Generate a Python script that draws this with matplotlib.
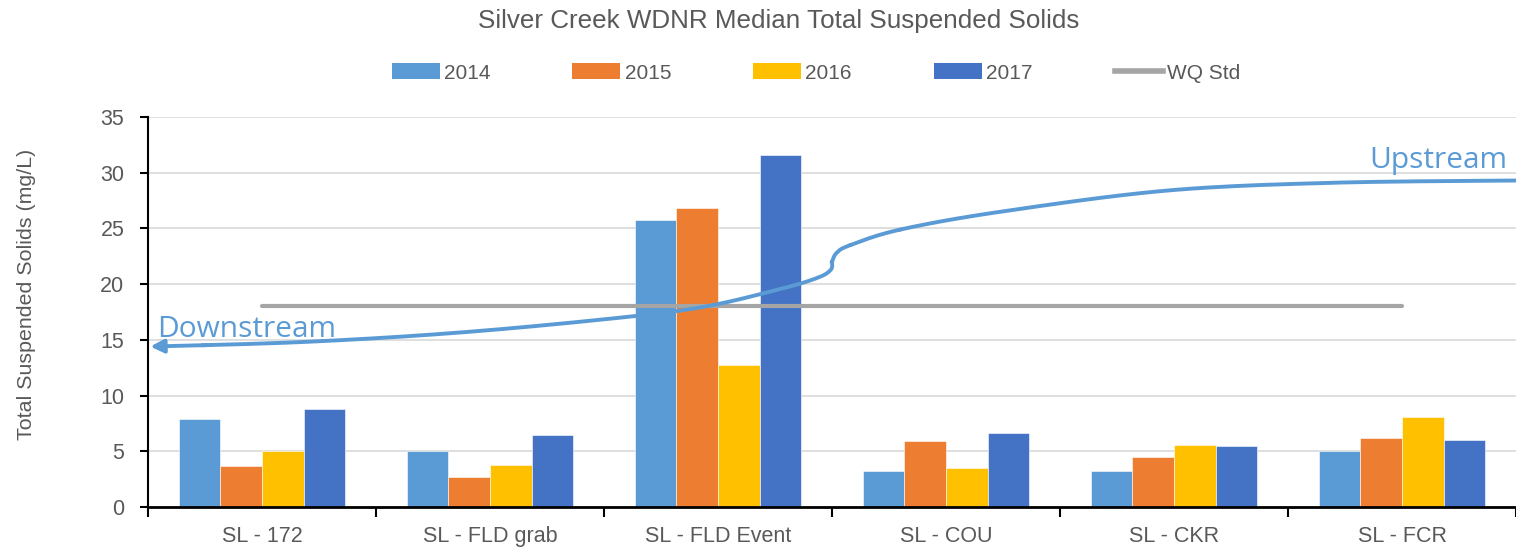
import numpy as np
import matplotlib
matplotlib.use("Agg")
import matplotlib.pyplot as plt
from matplotlib.lines import Line2D
from matplotlib.patches import Patch

plt.rcParams['font.family'] = ['Liberation Sans', 'DejaVu Sans']

# data
sites = ["SL - 172", "SL - FLD grab", "SL - FLD Event", "SL - COU", "SL - CKR", "SL - FCR"]
years = ["2014", "2015", "2016", "2017"]
tss_2014 = [7.9, 5.0, 25.8, 3.2, 3.2, 5.0]
tss_2015 = [3.7, 2.7, 26.8, 5.9, 4.5, 6.2]
tss_2016 = [5.0, 3.8, 12.7, 3.5, 5.6, 8.1]
tss_2017 = [8.8, 6.5, 31.6, 6.6, 5.5, 6.0]
wq_std = [18, 18, 18, 18, 18, 18]

colors = ["#5B9BD5", "#ED7D31", "#FFC000", "#4472C4"]
txt = "#595959"
arrow_col = "#5B9BD5"

# annotation curve (category x units, mg/L y units)
down_x = [-0.49, 0.17, 0.83, 1.48, 1.92, 2.28, 2.44, 2.495, 2.50]
down_y = [14.4, 14.8, 15.6, 16.8, 17.9, 19.6, 20.6, 21.3, 22.0]
up_x = [2.50, 2.52, 2.58, 2.80, 3.24, 3.97, 4.70, 5.50]
up_y = [22.0, 22.8, 23.5, 24.9, 26.5, 28.4, 29.1, 29.3]


def smooth(xs, ys, n=20):
    # catmull-rom through points
    p = np.column_stack([xs, ys])
    p = np.vstack([p[0], p, p[-1]])
    out = []
    for i in range(1, len(p) - 2):
        p0, p1, p2, p3 = p[i - 1], p[i], p[i + 1], p[i + 2]
        t = np.linspace(0, 1, n)[:, None]
        seg = 0.5 * ((2 * p1) + (-p0 + p2) * t + (2 * p0 - 5 * p1 + 4 * p2 - p3) * t ** 2
                     + (-p0 + 3 * p1 - 3 * p2 + p3) * t ** 3)
        out.append(seg)
    out = np.vstack(out)
    return out[:, 0], out[:, 1]


fig = plt.figure(figsize=(15.16, 5.53), dpi=100)
ax = fig.add_axes([148 / 1516, 1 - 507 / 553, 1 - 148 / 1516, 390 / 553])

x = np.arange(len(sites))
w = 0.183
series = [tss_2014, tss_2015, tss_2016, tss_2017]
for i, vals in enumerate(series):
    ax.bar(x + (i - 1.5) * w, vals, w, color=colors[i], edgecolor="white",
           linewidth=0.4, zorder=2)

ax.plot(x, wq_std, color="#A5A5A5", lw=3, solid_capstyle="round", zorder=3)

ax.set_xlim(-0.5, 5.5)
ax.set_ylim(0, 35)
ax.set_yticks(np.arange(0, 36, 5))
ax.yaxis.grid(True, color="#D9D9D9", lw=1.2, zorder=0)
ax.set_axisbelow(True)
ax.set_xticks(x)
ax.set_xticklabels(sites)
ax.set_xticks(np.arange(-0.5, 5.6, 1), minor=True)
ax.tick_params(axis="x", which="major", length=0, pad=14, labelsize=15.5, labelcolor=txt)
ax.tick_params(axis="x", which="minor", length=7, width=1.5, direction="out")
ax.tick_params(axis="y", length=6, width=1.5, pad=11, labelsize=15.5, labelcolor=txt)
for s in ["top", "right"]:
    ax.spines[s].set_visible(False)
ax.spines["left"].set_linewidth(1.5)
ax.spines["bottom"].set_linewidth(2)
ax.set_ylabel("Total Suspended Solids (mg/L)", fontsize=15.4, color=txt)
ax.yaxis.set_label_coords(-0.082, 0.545)

# downstream / upstream arrow
cx, cy = smooth(down_x, down_y)
ax.plot(cx[8:], cy[8:], color=arrow_col, lw=2.8, clip_on=False, zorder=4)
ax.annotate("", xy=(cx[0], cy[0]), xytext=(cx[9], cy[9]),
            arrowprops=dict(arrowstyle="-|>", color=arrow_col, lw=2.8,
                            mutation_scale=20, shrinkA=0, shrinkB=0), zorder=4)
ux, uy = smooth(up_x, up_y)
ax.plot(ux, uy, color=arrow_col, lw=2.8, clip_on=False, zorder=4)
ax.text(-0.46, 15.3, "Downstream", color=arrow_col, fontsize=21.5,
        family=["Open Sans", "DejaVu Sans"], ha="left", va="baseline")
ax.text(5.46, 30.4, "Upstream", color=arrow_col, fontsize=21.5,
        family=["Open Sans", "DejaVu Sans"], ha="right", va="baseline")

fig.suptitle("Silver Creek WDNR Median Total Suspended Solids", x=779 / 1516,
             y=1 - 21 / 553, va="center", fontsize=18.7, color=txt)

handles = [Patch(facecolor=c) for c in colors]
handles.append(Line2D([0], [0], color="#A5A5A5", lw=4))
leg = fig.legend(handles, years + ["WQ Std"], loc="center", ncol=5,
                 bbox_to_anchor=(816 / 1516, 1 - 73 / 553), frameon=False,
                 fontsize=15, handlelength=2.3, handleheight=0.8,
                 columnspacing=3.95, handletextpad=0.2)
for t in leg.get_texts():
    t.set_color(txt)

fig.savefig("out.png", dpi=100)
